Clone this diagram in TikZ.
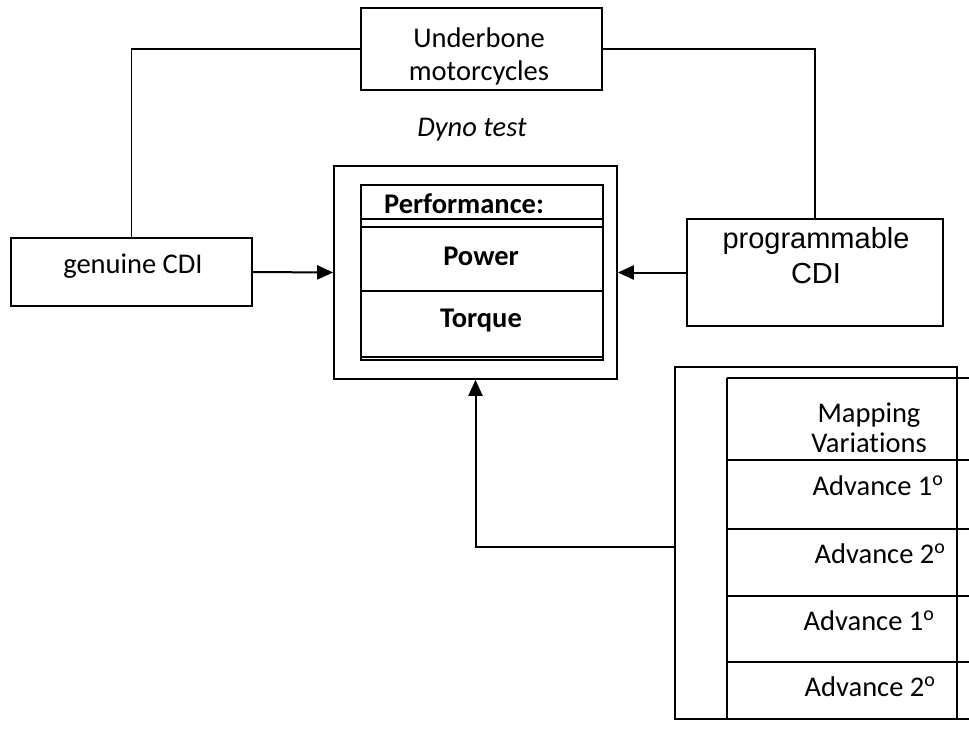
\documentclass[tikz,border=0pt]{standalone}
\usepackage{fontspec}
\setmainfont{Carlito}[Ligatures=NoCommon]
\newfontfamily\arialfont{Liberation Sans}
\usetikzlibrary{arrows.meta}

\begin{document}
\begin{tikzpicture}[x=1pt,y=-1pt,
  box/.style={draw, line width=1.6pt, rectangle, inner sep=0pt},
  lbl/.style={font=\fontsize{28.5}{34}\selectfont, anchor=base, inner sep=0pt, align=center},
  tabline/.style={line width=2pt},
  link/.style={line width=1.8pt},
  arr/.style={line width=2pt, -{Triangle[length=16pt,width=14pt]}},
]
\useasboundingbox (0,0) rectangle (969,729);

% boxes
\node[box, minimum width=241pt, minimum height=82pt]  (under) at (481.5,49) {};
\node[box, minimum width=241pt, minimum height=68pt]  (gen)   at (131.5,272) {};
\node[box, minimum width=256pt, minimum height=107pt] (prog)  at (815,272.5) {};
\node[box, minimum width=283pt, minimum height=213pt] (perf)  at (475.5,272.5) {};
\node[box, minimum width=282pt, minimum height=352pt] (maps)  at (816,543) {};

% labels (multi-line labels are placed by the baseline of their last line)
\node[lbl, font=\fontsize{28.5}{33}\selectfont] (ubl) at (479,80) {Underbone\\motorcycles};
\node[lbl, font=\fontsize{28.5}{34}\selectfont\itshape] (dyno) at (472,136) {Dyno test};
\node[lbl] (genl) at (133,273) {genuine CDI};
\node[lbl, font=\fontsize{29}{35}\selectfont\arialfont] (prl) at (816,283) {programmable\\CDI};

% performance table
\draw[tabline] (361,185) rectangle (603,360);
\draw[tabline] (361,219) -- (603,219);
\draw[tabline] (361,227) -- (603,227);
\draw[tabline] (361,291) -- (603,291);
\draw[tabline] (361,357) -- (603,357);
\node[lbl, font=\fontsize{28.5}{34}\selectfont\bfseries] (ptitle) at (464,213) {Performance:};
\node[lbl, font=\fontsize{28.5}{34}\selectfont\bfseries] (power)  at (481,265) {Power};
\node[lbl, font=\fontsize{28.5}{34}\selectfont\bfseries] (torque) at (481,327) {Torque};

% mapping table
\draw[tabline] (727,378) -- (727,719);
\foreach \yy in {378,460,529,596,662,719}
  \draw[tabline] (727,\yy) -- (969,\yy);
\node[lbl, font=\fontsize{28.5}{30}\selectfont] (mpl) at (869,452) {Mapping\\Variations};
\node[lbl] (a1) at (878,495) {Advance 1\textsuperscript{o}};
\node[lbl] (a2) at (880,563) {Advance 2\textsuperscript{o}};
\node[lbl] (a3) at (869,630) {Advance 1\textsuperscript{o}};
\node[lbl] (a4) at (870,696) {Advance 2\textsuperscript{o}};

% connectors
\draw[link] (under.west) -| (gen.north);
\draw[line width=1.3pt] (under.east) -| (prog.north);
\draw[arr] (gen.east) -- (perf.west);
\draw[arr] (prog.west) -- (perf.east);
\draw[arr] ([yshift=-4pt]maps.west) -| (perf.south);
\end{tikzpicture}
\end{document}
